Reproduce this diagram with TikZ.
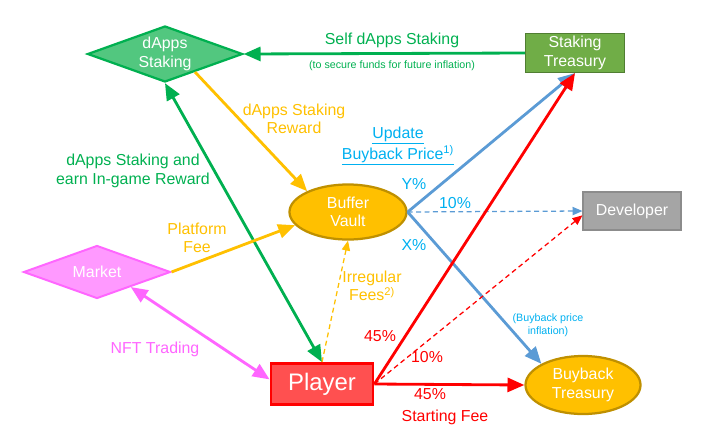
\documentclass[tikz,border=0pt]{standalone}
\usepackage{fontspec}
\setmainfont{Liberation Sans}
\usetikzlibrary{shapes.geometric,arrows.meta}
\definecolor{stgreen}{HTML}{00B050}
\definecolor{diagreen}{HTML}{52C77F}
\definecolor{treasgreen}{HTML}{70AD47}
\definecolor{treasline}{HTML}{507E32}
\definecolor{gold}{HTML}{FFC000}
\definecolor{goldline}{HTML}{BF9000}
\definecolor{devgray}{HTML}{A5A5A5}
\definecolor{devline}{HTML}{8C8C8C}
\definecolor{pinkfill}{HTML}{FF99FF}
\definecolor{pinkline}{HTML}{FF66FF}
\definecolor{playerfill}{HTML}{FF5050}
\definecolor{flowblue}{HTML}{5B9BD5}
\definecolor{labcyan}{HTML}{00B0F0}
\tikzset{
  txt/.style={font=\fontsize{11.3}{13}\selectfont,align=center},
  small/.style={font=\fontsize{7.6}{9}\selectfont,align=center},
  fat/.style={line width=2pt},
  dashline/.style={line width=0.9pt,dash pattern=on 3.5pt off 2.5pt},
  boxnode/.style={txt,draw,rectangle,text=white,inner sep=0pt},
  ovalnode/.style={txt,ellipse,fill=gold,draw=goldline,line width=1.6pt,text=white,inner sep=0pt},
  dianode/.style={txt,diamond,aspect=2.8,text=white,inner sep=0pt}
}
\begin{document}
\begin{tikzpicture}[x=0.025cm,y=-0.025cm,>={Triangle[length=3pt 4.5,width=2.5pt 3.75]}]
  \useasboundingbox (0,0) rectangle (709,435);
  % boxes
  \node[dianode,fill=diagreen,draw=stgreen,line width=1.6pt,minimum width=3.875cm,minimum height=1.4cm] (stake) at (165,54) {dApps\\Staking};
  \node[boxnode,fill=treasgreen,draw=treasline,line width=0.8pt,minimum width=2.475cm,minimum height=0.975cm] (streas) at (575,53) {Staking\\Treasury};
  \node[ovalnode,minimum width=2.925cm,minimum height=1.375cm] (vault) at (348,212) {Buffer\\Vault};
  \node[boxnode,fill=devgray,draw=devline,line width=0.8pt,minimum width=2.45cm,minimum height=0.95cm] (dev) at (632,211) {Developer};
  \node[dianode,fill=pinkfill,draw=pinkline,line width=1.4pt,minimum width=3.675cm,minimum height=1.325cm] (market) at (97,272) {Market};
  \node[boxnode,fill=playerfill,draw=red,line width=2pt,minimum width=2.55cm,minimum height=1.025cm,font=\fontsize{17}{20}\selectfont] (player) at (322,384) {Player};
  \node[ovalnode,minimum width=2.875cm,minimum height=1.45cm] (btreas) at (583,385) {Buyback\\Treasury};

  % staking flows
  \draw[->,fat,stgreen] (streas.west)--(stake.east);
  \node[txt,stgreen] (selflab) at (392,40) {Self dApps Staking};
  \node[small,stgreen] (securelab) at (392,66) {(to secure funds for future inflation)};
  \draw[->,fat,gold] (stake.-31)--(vault.153);
  \node[txt,gold] (rewardlab) at (294,119) {dApps Staking\\Reward};
  \draw[<->,fat,stgreen] (player.north)--(stake.south);
  \node[txt,stgreen] (earnlab) at (133,171) {dApps Staking and\\earn In-game Reward};

  % market
  \draw[->,fat,gold] (market.east)--(vault.194);
  \node[txt,gold] (feelab) at (197,238) {Platform\\Fee};
  \draw[<->,fat,pinkline] (market.-24)--(player.175);
  \node[txt,pinkline] (nftlab) at (155,349) {NFT Trading};
  \draw[->,dashline,gold] (player.north)--(vault.south);
  \node[txt,gold] (irrlab) at (372,286) {Irregular\\Fees\textsuperscript{2)}};

  % buffer vault split
  \node[txt,labcyan] (updlab) at (398,146) {\underline{Update}\\\underline{Buyback Price\textsuperscript{1)}}};
  \draw[->,fat,flowblue] (vault.east)--(streas.south);
  \node[txt,labcyan] (ylab) at (414,184) {Y\%};
  \draw[->,dashline,flowblue] (vault.east)--(dev.west);
  \node[txt,labcyan] (tenlab) at (455,203) {10\%};
  \draw[->,fat,flowblue] (vault.east)--(btreas.153);
  \node[txt,labcyan] (xlab) at (414,245) {X\%};
  \node[small,labcyan] (inflab) at (548,325) {(Buyback price\\inflation)};

  % starting fee
  \draw[->,fat,red] (player.east)--(streas.south);
  \node[txt,red] (fortyfive) at (380,336) {45\%};
  \draw[->,dashline,red] (player.east)--(dev.185);
  \node[txt,red] (tenred) at (427,357) {10\%};
  \draw[->,fat,red] (player.east)--(btreas.west);
  \node[txt,red] (fortyfiveb) at (430,394) {45\%};
  \node[txt,red] (startlab) at (445,417) {Starting Fee};
\end{tikzpicture}
\end{document}
